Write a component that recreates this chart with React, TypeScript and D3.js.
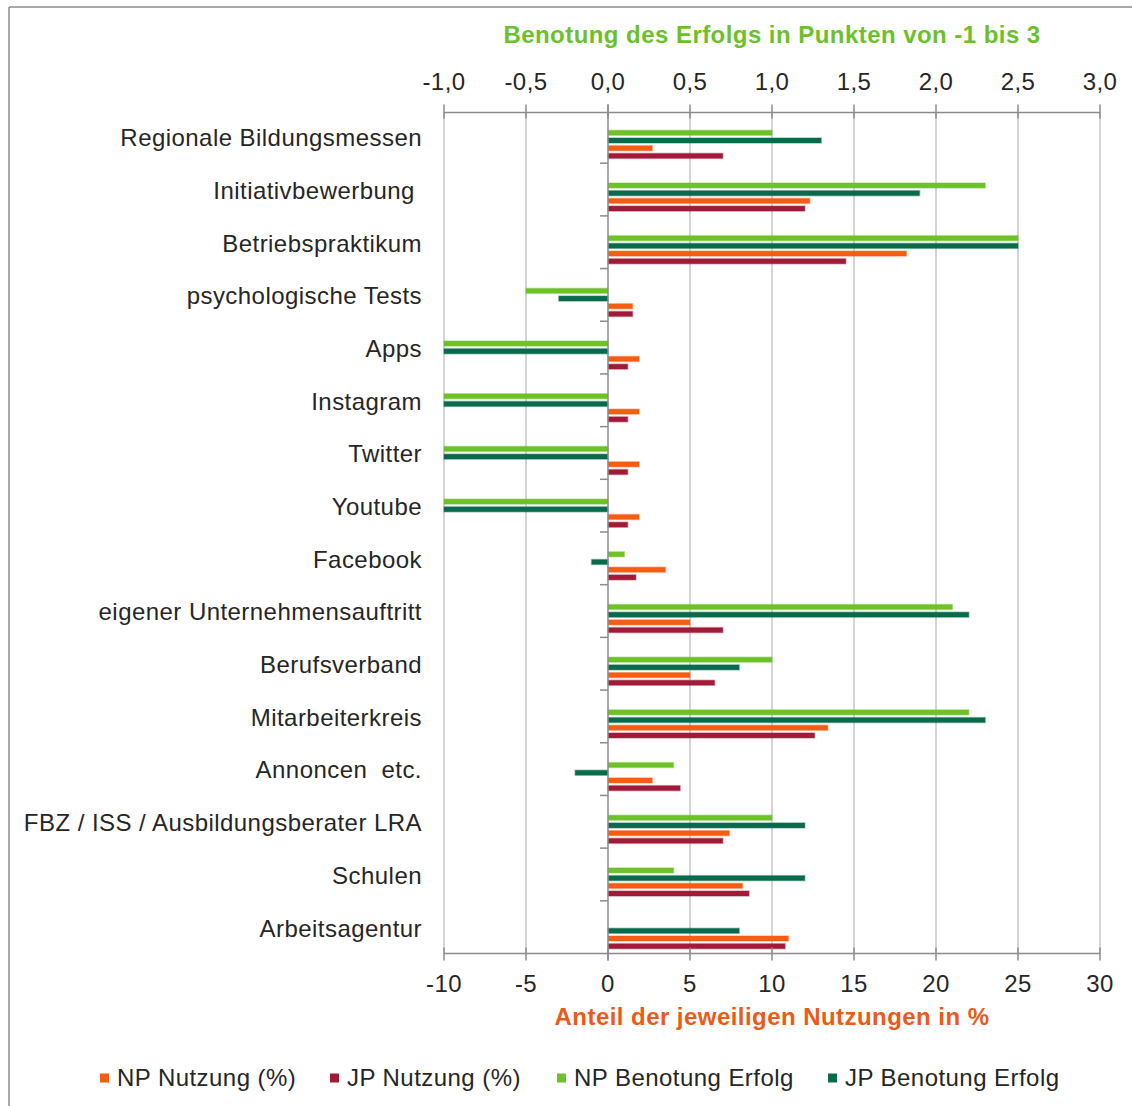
import React from "react";
import * as d3 from "d3";

// categories, top to bottom
const categories = [
  "Regionale Bildungsmessen",
  "Initiativbewerbung ",
  "Betriebspraktikum",
  "psychologische Tests",
  "Apps",
  "Instagram",
  "Twitter",
  "Youtube",
  "Facebook",
  "eigener Unternehmensauftritt",
  "Berufsverband",
  "Mitarbeiterkreis",
  "Annoncen  etc.",
  "FBZ / ISS / Ausbildungsberater LRA",
  "Schulen",
  "Arbeitsagentur",
];

// usage share in %
const npNutzung = [2.7, 12.3, 18.2, 1.5, 1.9, 1.9, 1.9, 1.9, 3.5, 5.0, 5.0, 13.4, 2.7, 7.4, 8.2, 11.0];
const jpNutzung = [7.0, 12.0, 14.5, 1.5, 1.2, 1.2, 1.2, 1.2, 1.7, 7.0, 6.5, 12.6, 4.4, 7.0, 8.6, 10.8];
// grade of success, -1 .. 3
const npBenotung = [1.0, 2.3, 2.5, -0.5, -1.0, -1.0, -1.0, -1.0, 0.1, 2.1, 1.0, 2.2, 0.4, 1.0, 0.4, 0];
const jpBenotung = [1.3, 1.9, 2.5, -0.3, -1.0, -1.0, -1.0, -1.0, -0.1, 2.2, 0.8, 2.3, -0.2, 1.2, 1.2, 0.8];

const pctTicks = [-10, -5, 0, 5, 10, 15, 20, 25, 30];
const gradeTicks = [-1, -0.5, 0, 0.5, 1, 1.5, 2, 2.5, 3];

const series = [
  { key: "npB", label: "NP Benotung Erfolg", color: "#6cc227", values: npBenotung, grade: true },
  { key: "jpB", label: "JP Benotung Erfolg", color: "#0a6a4c", values: jpBenotung, grade: true },
  { key: "npN", label: "NP Nutzung (%)", color: "#f45d12", values: npNutzung, grade: false },
  { key: "jpN", label: "JP Nutzung (%)", color: "#a11b38", values: jpNutzung, grade: false },
];

const legendOrder = ["npN", "jpN", "npB", "jpB"];
const legendX = [100, 330, 557, 828];

const W = 1132;
const H = 1106;
const FONT = "'Liberation Sans', Arial, sans-serif";
const FS = 24;
const LS = 0.45;

const App = () => {
  const xPct = d3.scaleLinear().domain([-10, 30]).range([444, 1100]);
  const xGrade = d3.scaleLinear().domain([-1, 3]).range([444, 1100]);
  const y = d3.scaleBand().domain(categories).range([110.5, 953.5]);
  const sub = d3
    .scalePoint()
    .domain(series.map((s) => s.key))
    .range([22.3, 22.3 + 3 * 7.7]);
  const barH = 5;
  const top = 112.5;
  const bottom = 953.5;
  const fmt = (v) => d3.format(".1f")(v).replace(".", ",").replace("−", "-");

  return (
    <div style={{ position: "absolute", left: 0, top: 0 }}>
      <svg
        width={W}
        height={H}
        style={{ display: "block", background: "#fff", letterSpacing: LS }}
        fontFamily={FONT}
      >
        {/* frame */}
        <line x1={9} x2={9} y1={7} y2={H} stroke="#8c8c8c" strokeWidth={1.5} />
        <line x1={9} x2={W} y1={7} y2={7} stroke="#8c8c8c" strokeWidth={1.5} />

        {/* gridlines */}
        {pctTicks
          .filter((t) => t !== 0)
          .map((t) => (
            <line key={t} x1={xPct(t)} x2={xPct(t)} y1={top} y2={bottom} stroke="#c6c6c6" strokeWidth={1.5} />
          ))}

        {/* bars */}
        {series.map((s) =>
          categories.map((c, i) => {
            const v = s.values[i];
            const sc = s.grade ? xGrade : xPct;
            const x0 = sc(0);
            const x1 = sc(v);
            if (v === 0) return null;
            return (
              <rect
                key={s.key + i}
                x={Math.min(x0, x1)}
                y={y(c) + sub(s.key) - barH / 2}
                width={Math.abs(x1 - x0)}
                height={barH}
                fill={s.color}
                stroke={s.color}
                strokeOpacity={0.35}
                strokeWidth={1.5}
              />
            );
          })
        )}

        {/* zero axis with category ticks */}
        <line x1={xPct(0)} x2={xPct(0)} y1={top - 8} y2={bottom + 7} stroke="#8c8c8c" strokeWidth={1.5} />
        {categories.slice(1).map((c) => (
          <line key={c} x1={xPct(0) - 8} x2={xPct(0)} y1={y(c)} y2={y(c)} stroke="#8c8c8c" strokeWidth={1.5} />
        ))}

        {/* top axis */}
        <line x1={xGrade(-1)} x2={xGrade(3)} y1={top} y2={top} stroke="#8c8c8c" strokeWidth={1.5} />
        {gradeTicks.map((t) => (
          <g key={t}>
            <line x1={xGrade(t)} x2={xGrade(t)} y1={top - 8} y2={top + 6} stroke="#8c8c8c" strokeWidth={1.5} />
            <text x={xGrade(t)} y={90} textAnchor="middle" fontSize={FS} fill="#262626">
              {fmt(t)}
            </text>
          </g>
        ))}

        {/* bottom axis */}
        <line x1={xPct(-10)} x2={xPct(30)} y1={bottom} y2={bottom} stroke="#8c8c8c" strokeWidth={1.5} />
        {pctTicks.map((t) => (
          <g key={t}>
            <line x1={xPct(t)} x2={xPct(t)} y1={bottom - 6} y2={bottom + 7} stroke="#8c8c8c" strokeWidth={1.5} />
            <text x={xPct(t)} y={992} textAnchor="middle" fontSize={FS} fill="#262626">
              {t}
            </text>
          </g>
        ))}

        {/* category labels */}
        {categories.map((c) => (
          <text
            key={c}
            x={422}
            y={y(c) + y.bandwidth() / 2 + 1}
            dy="0.35em"
            textAnchor="end"
            fontSize={FS}
            fill="#262626"
            style={{ whiteSpace: "pre" }}
          >
            {c}
          </text>
        ))}

        {/* axis titles */}
        <text x={772} y={43} textAnchor="middle" fontSize={FS} fontWeight="bold" fill="#6cc12a">
          Benotung des Erfolgs in Punkten von -1 bis 3
        </text>
        <text x={772} y={1025} textAnchor="middle" fontSize={FS} fontWeight="bold" fill="#ec5a17">
          Anteil der jeweiligen Nutzungen in %
        </text>

        {/* legend */}
        {legendOrder.map((k, i) => {
          const s = series.find((d) => d.key === k);
          return (
            <g key={k} transform={`translate(${legendX[i]},1078)`}>
              <rect x={0} y={-4.5} width={9} height={9} fill={s.color} />
              <text x={17} y={0} dy="0.35em" fontSize={FS} fill="#262626">
                {s.label}
              </text>
            </g>
          );
        })}
      </svg>
    </div>
  );
};

export default App;
